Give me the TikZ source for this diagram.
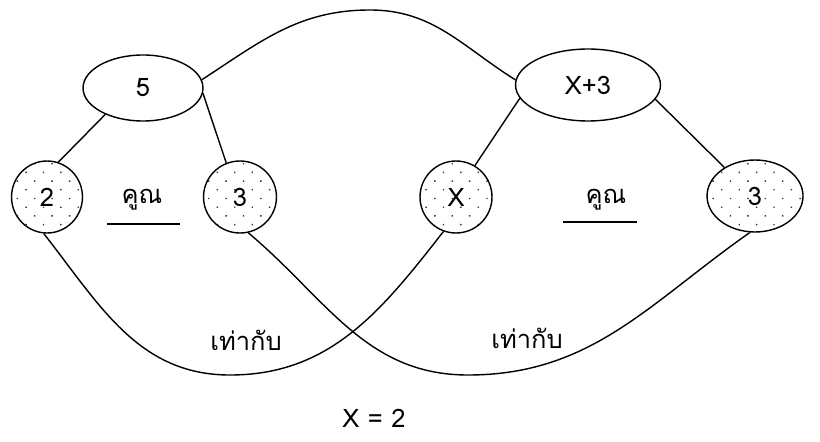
\documentclass[tikz,border=0pt]{standalone}
\usepackage{fontspec}
\setmainfont[Script=Thai]{Loma}
\usepackage{tikz}
\usetikzlibrary{shapes.geometric,patterns.meta}

\begin{document}
\begin{tikzpicture}[
  x=0.02cm, y=0.02cm,
  oval/.style={draw, ellipse, line width=0.8pt, inner sep=0pt},
  dotoval/.style={oval, pattern={Dots[distance=7pt, angle=45, radius=0.55pt]}, pattern color=black!80},
  edg/.style={line width=0.8pt},
  every node/.style={font=\fontsize{14.5}{17}\selectfont}
]
\useasboundingbox (0,0) rectangle (820,-442);
\node[oval, minimum width=2.4cm, minimum height=1.32cm] (E5) at (143,-88) {5};
\node[oval, minimum width=2.9cm, minimum height=1.44cm] (EX3) at (588,-85) {X+3};
\node[dotoval, minimum width=1.42cm, minimum height=1.44cm] (C2) at (47,-197) {2};
\node[dotoval, minimum width=1.46cm, minimum height=1.44cm] (C3) at (240,-197) {3};
\node[dotoval, minimum width=1.44cm, minimum height=1.44cm] (CX) at (456,-197) {X};
\node[dotoval, minimum width=1.92cm, minimum height=1.44cm] (E3) at (755,-196) {3};
\node (kunL) at (142,-200) {คูณ};
\node (kunR) at (606,-200) {คูณ};
\node (eqL) at (246,-340) {เท่ากับ};
\node (eqR) at (527,-338) {เท่ากับ};
\node[inner sep=0pt] (res) at (374,-418) {X = 2};
\draw[edg] (107,-224) -- (180,-224);
\draw[edg] (563,-222) -- (637,-222);
\draw[edg] (E5.215) -- (C2.72);
\draw[edg] (E5.-5) -- (C3.112);
\draw[edg] (EX3.191) -- (CX.59);
\draw[edg] (EX3.-12) -- (E3.137);
\draw[edg] (E5.8) to[out=33,in=180] (370,-10) to[out=0,in=148] (EX3.176);
\draw[edg] (C2.265) to[out=-52,in=180] (230,-375) to[out=0,in=-128] (CX.250);
\draw[edg] (C3.283) to[out=-40,in=180] (468,-375) to[out=0,in=-145] (E3.262);
\end{tikzpicture}
\end{document}
